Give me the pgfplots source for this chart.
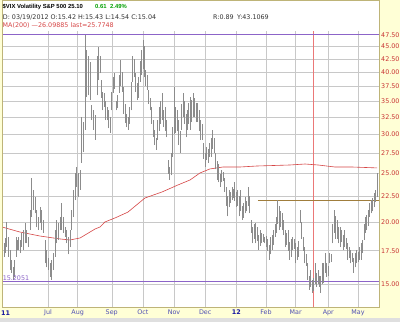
\documentclass[border=0pt]{standalone}
\usepackage{pgfplots}
\pgfplotsset{compat=1.18}
\usepackage{fontspec}
\setmainfont{DejaVu Sans}
\newfontfamily\hdfont{Liberation Sans}
\definecolor{bg}{RGB}{255,255,214}
\definecolor{gridc}{RGB}{200,200,200}
\definecolor{purp}{RGB}{140,100,200}
\definecolor{mared}{RGB}{214,70,70}
\definecolor{vred}{RGB}{235,120,120}
\definecolor{tickred}{RGB}{200,50,50}
\definecolor{tickblue}{RGB}{80,80,180}
\definecolor{darkblue}{RGB}{20,20,160}
\definecolor{brownl}{RGB}{160,125,60}
\definecolor{barc}{RGB}{140,140,140}
\definecolor{upgreen}{RGB}{0,160,0}
\definecolor{framec}{RGB}{190,180,120}
\newcommand{\sm}{\fontsize{6.4}{7.5}\selectfont}
\newcommand{\hd}{\hdfont\fontsize{5.9}{7}\selectfont\bfseries}
\begin{document}
\begin{tikzpicture}[x=1bp,y=1bp]
\fill[bg] (-2,-15) rectangle (398,307);
\fill[white] (0,0) rectangle (377.3,307);
\fill[gray!25] (-2,-15) rectangle (398,-11);
\useasboundingbox (-2,-15) rectangle (398,307);
\begin{axis}[at={(0,0)}, anchor=south west, scale only axis,
  width=377.3bp, height=276bp,
  xmin=-31.0, xmax=223.4, ymode=log, ymin=13.49, ymax=48.33,
  axis line style={draw=none}, tick style={draw=none},
  xtick={0,20,43,64,85,106,127,147,167,189,209},
  xticklabels={Jul,Aug,Sep,Oct,Nov,Dec,{\textcolor{darkblue}{\bfseries 12}},Feb,Mar,Apr,May},
  xticklabel style={font=\sm, text=tickblue, anchor=base, inner sep=0pt, yshift=-8bp},
  ytick={15,17.5,20,22.5,25,27.5,30,32.5,35,37.5,40,42.5,45,47.5},
  yticklabels={15.00,17.50,20.00,22.50,25.00,27.50,30.00,32.50,35.00,37.50,40.00,42.50,45.00,47.50},
  yticklabel pos=right,
  yticklabel style={font=\sm, text=tickred, anchor=west, inner sep=0pt, xshift=1.7bp},
  grid=major, major grid style={gridc, line width=0.5bp},
  clip=true]
\addplot[draw=vred, mark=none, line width=1.1bp] coordinates {(179,13.49)(179,48.33)};
\addplot[purp, line width=0.6bp] coordinates {(-31,47.5)(223.4,47.5)};
\addplot[purp, line width=0.6bp] coordinates {(-31,15.2051)(223.4,15.2051)};
\addplot[brownl, line width=0.6bp] coordinates {(141.6,22.12)(223.4,22.12)};
\addplot[mared, line width=0.6bp] coordinates {(-31,19.53)(-18.9,19.08)(-5.4,18.73)(8.1,18.48)(14.8,18.39)(21.6,18.56)(28.3,19.08)(31.7,19.35)(35.1,19.53)(38.4,19.99)(45.2,20.36)(53.9,20.92)(65.4,22.33)(76.9,22.96)(87.7,23.72)(95.8,24.27)(102.5,25.07)(109.2,25.54)(118,25.77)(129.5,25.77)(141,25.89)(163.2,26.01)(173.3,26.13)(182.1,26.01)(193.5,25.77)(205,25.77)(222,25.66)};
\addplot[barc, line width=0.75bp, unbounded coords=jump] coordinates {
(-30.6,16.8)(-30.6,17.7)(-30.6,nan)
(-29.7,17.0)(-29.7,18.1)(-29.7,nan)
(-28.8,17.3)(-28.8,18.6)(-28.8,nan)
(-27.9,17.8)(-27.9,20.0)(-27.9,nan)
(-26.7,17.0)(-26.7,18.65)(-26.7,nan)
(-25.6,16.0)(-25.6,17.56)(-25.6,nan)
(-24.5,15.8)(-24.5,16.8)(-24.5,nan)
(-23.4,15.3)(-23.4,16.2)(-23.4,nan)
(-22.5,15.5)(-22.5,16.8)(-22.5,nan)
(-21.6,17.0)(-21.6,18.65)(-21.6,nan)
(-20.7,17.56)(-20.7,18.4)(-20.7,nan)
(-19.8,17.56)(-19.8,18.65)(-19.8,nan)
(-18.9,17.3)(-18.9,18.4)(-18.9,nan)
(-17.8,17.8)(-17.8,19.0)(-17.8,nan)
(-16.6,17.56)(-16.6,19.26)(-16.6,nan)
(-15.5,18.1)(-15.5,19.9)(-15.5,nan)
(-14.4,18.1)(-14.4,19.26)(-14.4,nan)
(-13.2,17.8)(-13.2,18.65)(-13.2,nan)
(-12.1,19.26)(-12.1,21.1)(-12.1,nan)
(-11.0,20.45)(-11.0,24.5)(-11.0,nan)
(-9.9,21.1)(-9.9,23.2)(-9.9,nan)
(-8.8,20.8)(-8.8,22.4)(-8.8,nan)
(-7.6,19.5)(-7.6,21.1)(-7.6,nan)
(-6.5,19.26)(-6.5,20.45)(-6.5,nan)
(-5.4,19.9)(-5.4,21.4)(-5.4,nan)
(-4.3,19.26)(-4.3,21.1)(-4.3,nan)
(-3.1,19.0)(-3.1,20.2)(-3.1,nan)
(-2.0,16.5)(-2.0,18.4)(-2.0,nan)
(-0.9,16.2)(-0.9,17.56)(-0.9,nan)
(0.2,16.0)(0.2,16.9)(0.2,nan)
(1.3,15.5)(1.3,16.5)(1.3,nan)
(2.5,15.3)(2.5,16.8)(2.5,nan)
(3.6,16.0)(3.6,17.3)(3.6,nan)
(4.7,17.0)(4.7,19.26)(4.7,nan)
(5.8,18.1)(5.8,20.2)(5.8,nan)
(7.0,18.4)(7.0,19.9)(7.0,nan)
(8.1,19.26)(8.1,20.45)(8.1,nan)
(9.2,19.26)(9.2,21.8)(9.2,nan)
(10.3,19.0)(10.3,20.45)(10.3,nan)
(11.5,18.65)(11.5,19.5)(11.5,nan)
(12.6,18.1)(12.6,19.26)(12.6,nan)
(13.7,17.2)(13.7,18.65)(13.7,nan)
(14.8,17.8)(14.8,19.26)(14.8,nan)
(15.9,19.26)(15.9,21.1)(15.9,nan)
(17.1,20.45)(17.1,23.2)(17.1,nan)
(18.2,22.1)(18.2,25.1)(18.2,nan)
(19.3,23.5)(19.3,25.8)(19.3,nan)
(20.4,22.4)(20.4,25.1)(20.4,nan)
(21.6,23.2)(21.6,25.4)(21.6,nan)
(22.7,26.3)(22.7,32.4)(22.7,nan)
(23.8,27.6)(23.8,31.7)(23.8,nan)
(24.9,30.6)(24.9,47.4)(24.9,nan)
(26.1,35.6)(26.1,44.3)(26.1,nan)
(27.2,35.9)(27.2,43.0)(27.2,nan)
(28.3,35.1)(28.3,41.8)(28.3,nan)
(29.4,32.0)(29.4,34.3)(29.4,nan)
(30.6,30.6)(30.6,33.5)(30.6,nan)
(31.7,29.2)(31.7,32.8)(31.7,nan)
(33,35.9)(33,43.0)(33,nan)
(34,38.5)(34,44.8)(34,nan)
(35,39.8)(35,43.0)(35,nan)
(36,35.5)(36,38.5)(36,nan)
(37,33.5)(37,36.5)(37,nan)
(38,34.0)(38,36.3)(38,nan)
(39,32.0)(39,35.0)(39,nan)
(40,32.0)(40,34.0)(40,nan)
(41,30.8)(41,33.5)(41,nan)
(42,30.2)(42,32.5)(42,nan)
(43,33.5)(43,36.5)(43,nan)
(44,36.3)(44,39.0)(44,nan)
(45,37.0)(45,39.8)(45,nan)
(46,33.5)(46,35.0)(46,nan)
(47,33.8)(47,36.0)(47,nan)
(48,36.3)(48,39.5)(48,nan)
(49,37.5)(49,42.3)(49,nan)
(50,36.5)(50,40.0)(50,nan)
(51,33.0)(51,37.3)(51,nan)
(52,31.6)(52,34.5)(52,nan)
(53,31.0)(53,33.0)(53,nan)
(54,30.6)(54,32.5)(54,nan)
(55,31.5)(55,34.0)(55,nan)
(56,33.5)(56,38.2)(56,nan)
(57,38.2)(57,43.0)(57,nan)
(58,39.0)(58,42.5)(58,nan)
(59,36.5)(59,39.8)(59,nan)
(60,35.1)(60,38.0)(60,nan)
(61,35.5)(61,39.0)(61,nan)
(62,38.2)(62,42.0)(62,nan)
(63,39.5)(63,44.3)(63,nan)
(64,40.5)(64,46.4)(64,nan)
(65,39.0)(65,45.0)(65,nan)
(66,37.5)(66,40.4)(66,nan)
(67,36.8)(67,39.5)(67,nan)
(68,34.5)(68,36.8)(68,nan)
(69,33.5)(69,35.5)(69,nan)
(70,31.5)(70,34.0)(70,nan)
(71,29.6)(71,32.0)(71,nan)
(72,28.5)(72,30.6)(72,nan)
(73,27.9)(73,29.5)(73,nan)
(74,29.2)(74,32.0)(74,nan)
(75,30.5)(75,34.0)(75,nan)
(76,31.5)(76,35.0)(76,nan)
(77,32.0)(77,36.3)(77,nan)
(78,31.0)(78,33.5)(78,nan)
(79,30.5)(79,34.0)(79,nan)
(80,29.6)(80,32.0)(80,nan)
(81,25.0)(81,26.6)(81,nan)
(82,24.3)(82,25.8)(82,nan)
(83,24.8)(83,27.5)(83,nan)
(84,27.0)(84,31.0)(84,nan)
(85,30.0)(85,37.3)(85,nan)
(86,30.2)(86,34.0)(86,nan)
(87,30.5)(87,33.5)(87,nan)
(88,28.5)(88,32.0)(88,nan)
(89,27.5)(89,30.5)(89,nan)
(90,30.6)(90,34.5)(90,nan)
(91,32.5)(91,36.3)(91,nan)
(92,31.5)(92,35.0)(92,nan)
(93,29.6)(93,33.0)(93,nan)
(94,30.6)(94,33.5)(94,nan)
(95,31.5)(95,34.6)(95,nan)
(96,30.6)(96,35.6)(96,nan)
(97,31.7)(97,35.1)(97,nan)
(98,32.5)(98,36.3)(98,nan)
(99,32.5)(99,35.5)(99,nan)
(100,31.7)(100,34.6)(100,nan)
(101,31.7)(101,34.6)(101,nan)
(102,30.5)(102,33.5)(102,nan)
(103,29.2)(103,32.0)(103,nan)
(104,29.2)(104,31.5)(104,nan)
(105,26.8)(105,28.8)(105,nan)
(106,25.8)(106,27.5)(106,nan)
(107,26.6)(107,28.3)(107,nan)
(108,26.3)(108,28.0)(108,nan)
(109,27.0)(109,28.8)(109,nan)
(110,27.0)(110,29.5)(110,nan)
(111,28.0)(111,30.6)(111,nan)
(112,27.5)(112,29.5)(112,nan)
(113,25.5)(113,27.5)(113,nan)
(114,24.3)(114,26.5)(114,nan)
(115,24.0)(115,26.1)(115,nan)
(116,23.5)(116,25.0)(116,nan)
(117,24.0)(117,25.4)(117,nan)
(118,24.2)(118,25.2)(118,nan)
(119,23.0)(119,24.5)(119,nan)
(120,21.5)(120,23.5)(120,nan)
(121,20.5)(121,22.5)(121,nan)
(122,21.4)(122,23.2)(122,nan)
(123,21.8)(123,23.0)(123,nan)
(124,22.1)(124,23.5)(124,nan)
(125,22.3)(125,23.3)(125,nan)
(126,22.0)(126,24.0)(126,nan)
(127,21.4)(127,23.0)(127,nan)
(128,21.5)(128,23.2)(128,nan)
(129,20.5)(129,22.5)(129,nan)
(130,21.0)(130,23.2)(130,nan)
(131,20.2)(131,21.5)(131,nan)
(132,20.4)(132,21.8)(132,nan)
(133,20.8)(133,22.4)(133,nan)
(134,21.0)(134,22.0)(134,nan)
(135,21.5)(135,23.5)(135,nan)
(136,20.8)(136,22.5)(136,nan)
(137,19.0)(137,20.2)(137,nan)
(138,18.1)(138,19.5)(138,nan)
(139,18.5)(139,19.8)(139,nan)
(140,18.1)(140,19.9)(140,nan)
(141,18.3)(141,19.5)(141,nan)
(142,17.56)(142,18.8)(142,nan)
(143,17.9)(143,19.26)(143,nan)
(144,18.1)(144,19.0)(144,nan)
(145,18.2)(145,18.9)(145,nan)
(146,18.1)(146,18.65)(146,nan)
(147,17.8)(147,18.7)(147,nan)
(148,17.5)(148,18.5)(148,nan)
(149,16.8)(149,18.0)(149,nan)
(150,17.2)(150,18.65)(150,nan)
(151,17.56)(151,18.8)(151,nan)
(152,18.0)(152,19.26)(152,nan)
(153,18.65)(153,19.8)(153,nan)
(154,19.0)(154,20.45)(154,nan)
(155,19.8)(155,22.1)(155,nan)
(156,19.26)(156,21.5)(156,nan)
(157,19.5)(157,21.0)(157,nan)
(158,19.26)(158,20.8)(158,nan)
(159,18.8)(159,20.2)(159,nan)
(160,17.8)(160,19.26)(160,nan)
(161,18.0)(161,19.0)(161,nan)
(162,17.5)(162,19.26)(162,nan)
(163,16.8)(163,18.2)(163,nan)
(164,17.0)(164,18.5)(164,nan)
(165,17.56)(165,18.65)(165,nan)
(166,17.6)(166,18.5)(166,nan)
(167,16.5)(167,18.1)(167,nan)
(168,16.8)(168,17.8)(168,nan)
(169,17.0)(169,18.3)(169,nan)
(170,19.9)(170,21.1)(170,nan)
(171,18.5)(171,20.0)(171,nan)
(172,17.5)(172,18.65)(172,nan)
(173,16.5)(173,17.8)(173,nan)
(174,16.3)(174,17.2)(174,nan)
(175,15.3)(175,16.5)(175,nan)
(176,14.6)(176,15.6)(176,nan)
(177,14.8)(177,16.0)(177,nan)
(178,14.4)(178,15.3)(178,nan)
(179,14.54)(179,15.43)(179,nan)
(180,15.0)(180,16.5)(180,nan)
(181,14.8)(181,15.8)(181,nan)
(182,15.0)(182,16.0)(182,nan)
(183,14.8)(183,15.6)(183,nan)
(184,14.4)(184,15.6)(184,nan)
(185,15.0)(185,16.5)(185,nan)
(186,15.1)(186,16.5)(186,nan)
(187,15.8)(187,17.3)(187,nan)
(188,15.5)(188,16.5)(188,nan)
(189,15.6)(189,16.3)(189,nan)
(190,16.5)(190,17.3)(190,nan)
(191,16.6)(191,17.2)(191,nan)
(192,18.1)(192,19.8)(192,nan)
(193,19.0)(193,21.1)(193,nan)
(194,18.5)(194,20.5)(194,nan)
(195,18.5)(195,20.2)(195,nan)
(196,18.1)(196,19.5)(196,nan)
(197,17.8)(197,19.5)(197,nan)
(198,18.2)(198,19.3)(198,nan)
(199,17.56)(199,18.8)(199,nan)
(200,17.8)(200,19.26)(200,nan)
(201,17.6)(201,18.6)(201,nan)
(202,16.8)(202,18.1)(202,nan)
(203,16.9)(203,17.8)(203,nan)
(204,16.5)(204,17.56)(204,nan)
(205,16.6)(205,17.3)(205,nan)
(206,15.8)(206,16.9)(206,nan)
(207,16.2)(207,17.3)(207,nan)
(208,16.5)(208,17.56)(208,nan)
(209,16.6)(209,17.4)(209,nan)
(210,16.8)(210,17.8)(210,nan)
(211,16.8)(211,18.1)(211,nan)
(212,17.3)(212,18.4)(212,nan)
(213,18.4)(213,19.8)(213,nan)
(214,19.0)(214,20.45)(214,nan)
(215,19.26)(215,20.6)(215,nan)
(216,19.6)(216,21.1)(216,nan)
(217,20.45)(217,21.8)(217,nan)
(218,20.8)(218,22.1)(218,nan)
(219,21.0)(219,22.3)(219,nan)
(220,21.4)(220,22.8)(220,nan)
(221,21.9)(221,23.2)(221,nan)
(222,22.4)(222,25.1)(222,nan)
};
\node[anchor=south west, inner sep=0.6bp, text=purp, font=\sm] at (axis cs:-31,15.2051) {15.2051};
\end{axis}
\draw[framec, line width=0.8bp] (0,0) rectangle (377.3,307);
\node[anchor=base, inner sep=0pt, text=darkblue, font=\sm\bfseries] at (3.5,-8) {11};
\node[anchor=base west, inner sep=0pt, font=\hd] at (0.5,298.3) {\$VIX Volatility S\&P 500};
\node[anchor=base west, inner sep=0pt, font=\hd] at (66,298.3) {25.10};
\node[anchor=base west, inner sep=0pt, text=upgreen, font=\hd] at (93,298.3) {0.61};
\node[anchor=base west, inner sep=0pt, text=upgreen, font=\hd] at (108,298.3) {2.49\%};
\node[anchor=base west, inner sep=0pt, text=black!80, font=\sm] at (0.7,287.8) {D: 03/19/2012 O:15.42 H:15.43 L:14.54 C:15.04};
\node[anchor=base west, inner sep=0pt, text=black!80, font=\sm] at (211,287.8) {R:0.89};
\node[anchor=base west, inner sep=0pt, text=black!80, font=\sm] at (235,287.8) {Y:43.1069};
\node[anchor=base west, inner sep=0pt, text=mared, font=\sm] at (0.5,279.5) {MA(200) —26.09885 last=25.7748};
\end{tikzpicture}
\end{document}
